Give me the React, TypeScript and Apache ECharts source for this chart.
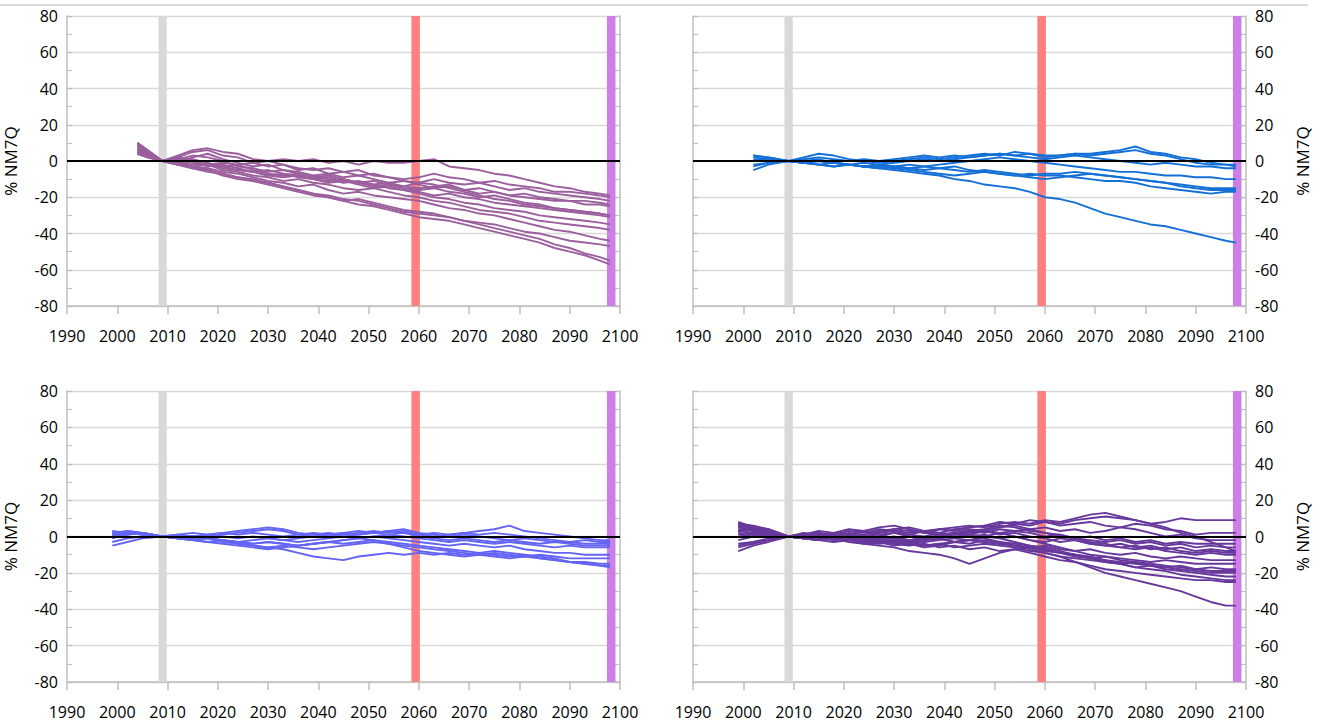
import React, { useEffect, useRef } from "react";
import * as echarts from "echarts";

// ---------- DATA ----------
const YEARS_A = [2004, 2006, 2009, 2012, 2015, 2018, 2021, 2024, 2027, 2030, 2033, 2036, 2039, 2042, 2045, 2048, 2051, 2054, 2057, 2060, 2063, 2066, 2069, 2072, 2075, 2078, 2081, 2084, 2087, 2090, 2093, 2096, 2098];
const YEARS_B = [2002, 2005, 2009, 2012, 2015, 2018, 2021, 2024, 2027, 2030, 2033, 2036, 2039, 2042, 2045, 2048, 2051, 2054, 2057, 2060, 2063, 2066, 2069, 2072, 2075, 2078, 2081, 2084, 2087, 2090, 2093, 2096, 2098];
const YEARS_C = [1999, 2002, 2005, 2009, 2012, 2015, 2018, 2021, 2024, 2027, 2030, 2033, 2036, 2039, 2042, 2045, 2048, 2051, 2054, 2057, 2060, 2063, 2066, 2069, 2072, 2075, 2078, 2081, 2084, 2087, 2090, 2093, 2096, 2098];
const YEARS_D = YEARS_C;

const LINES_A = [
  [4, 2, 0, 1, 0, -2, -1, -2, -1, 0, 1, 0, 1, -1, 0, -2, 0, -1, -1, 0, 1, -3, -4, -5, -7, -8, -10, -12, -14, -15, -17, -18, -19],
  [10, 6, 0, 3, 6, 7, 5, 4, 1, 0, -2, -4, -5, -4, -6, -8, -7, -9, -10, -9, -7, -9, -10, -12, -11, -13, -14, -15, -17, -17, -18, -19, -20],
  [8, 5, 0, 2, 5, 6, 3, 2, -1, -3, -2, -5, -4, -7, -6, -5, -8, -9, -11, -12, -10, -12, -13, -12, -14, -16, -15, -17, -18, -19, -20, -21, -22],
  [6, 4, 0, 1, 3, 2, 0, -3, -4, -6, -5, -7, -9, -8, -10, -12, -11, -13, -14, -15, -14, -13, -16, -15, -17, -19, -18, -20, -21, -22, -22, -23, -24],
  [9, 5, 0, -1, 2, 4, 1, -1, -3, -2, -5, -6, -8, -7, -9, -8, -10, -12, -11, -13, -15, -14, -16, -18, -17, -19, -20, -21, -22, -22, -24, -24, -25],
  [5, 3, 0, -1, -2, -1, -4, -5, -6, -8, -7, -9, -10, -9, -11, -12, -14, -13, -15, -16, -15, -17, -18, -20, -19, -21, -23, -24, -26, -27, -28, -29, -30],
  [7, 4, 0, 2, 1, -1, -3, -2, -5, -7, -8, -7, -9, -10, -12, -11, -13, -12, -14, -12, -13, -15, -17, -19, -21, -22, -24, -25, -26, -27, -28, -29, -30],
  [4, 2, 0, 0, -1, -3, -2, -4, -6, -5, -7, -8, -10, -11, -10, -12, -13, -15, -16, -17, -19, -18, -20, -21, -23, -24, -25, -26, -27, -28, -29, -30, -31],
  [8, 5, 0, -1, 0, -2, -3, -5, -6, -8, -9, -8, -10, -12, -11, -13, -15, -14, -16, -18, -20, -21, -23, -24, -26, -27, -28, -30, -31, -32, -33, -34, -35],
  [6, 3, 0, -2, -3, -2, -5, -6, -8, -9, -11, -10, -12, -13, -15, -16, -15, -17, -19, -20, -22, -23, -25, -27, -28, -29, -31, -33, -34, -35, -36, -37, -38],
  [10, 6, 0, -1, -3, -4, -6, -7, -9, -11, -12, -14, -13, -16, -18, -17, -19, -20, -21, -22, -24, -26, -27, -29, -30, -32, -34, -36, -38, -39, -41, -43, -44],
  [7, 4, 0, -2, -4, -6, -7, -9, -11, -12, -14, -16, -18, -20, -22, -21, -23, -25, -27, -28, -29, -31, -33, -34, -35, -37, -39, -40, -42, -44, -45, -46, -47],
  [5, 3, 0, -2, -4, -5, -7, -9, -10, -12, -14, -16, -18, -19, -21, -22, -24, -26, -28, -29, -30, -31, -33, -35, -37, -39, -41, -43, -46, -48, -51, -53, -55],
  [9, 5, 0, -2, -3, -5, -8, -10, -11, -13, -15, -17, -19, -20, -22, -24, -25, -27, -29, -31, -32, -33, -35, -37, -39, -41, -43, -45, -48, -50, -52, -55, -57],
];

const LINES_B = [
  [3, 2, 0, 1, 2, 1, 0, 1, 0, 1, 2, 3, 2, 3, 2, 3, 4, 3, 4, 3, 3, 4, 4, 5, 6, 8, 5, 4, 2, 1, -1, -2, -2],
  [2, 1, 0, 2, 4, 3, 1, 0, -1, 0, 1, 2, 1, 2, 3, 4, 3, 5, 4, 2, 3, 4, 3, 4, 5, 6, 4, 3, 1, -1, -2, -2, -3],
  [0, 1, 0, -1, 0, -1, -2, -1, -2, -1, 0, 1, 0, 1, 2, 3, 4, 3, 2, 1, 2, 3, 2, 1, 0, -1, -2, -1, -2, -3, -3, -4, -4],
  [3, 2, 0, 0, 1, -1, -2, -3, -2, -3, -4, -3, -2, -1, 0, 1, 2, 1, 0, -1, -2, -3, -4, -5, -6, -6, -7, -8, -8, -9, -9, -10, -10],
  [-2, -1, 0, -1, -2, -3, -2, -3, -4, -3, -2, -3, -4, -5, -6, -5, -6, -7, -8, -7, -7, -6, -7, -8, -9, -10, -11, -12, -13, -14, -15, -15, -15],
  [-3, -1, 0, -1, 0, -1, -2, -3, -2, -3, -4, -5, -4, -3, -5, -6, -7, -8, -9, -10, -9, -8, -7, -8, -9, -10, -11, -12, -14, -15, -16, -16, -16],
  [1, 0, 0, -1, -2, -1, -2, -3, -3, -4, -5, -6, -7, -8, -7, -6, -7, -8, -7, -8, -8, -9, -10, -11, -11, -12, -14, -15, -16, -17, -18, -17, -17],
  [-5, -2, 0, -1, -2, -3, -2, -3, -4, -5, -6, -7, -8, -10, -11, -13, -14, -15, -17, -20, -21, -23, -26, -29, -31, -33, -35, -36, -38, -40, -42, -44, -45],
];

const LINES_C = [
  [2, 3, 2, 0, 1, 0, 1, 2, 1, 2, 1, 0, 1, 2, 1, 2, 3, 2, 3, 2, 1, 2, 1, 2, 3, 4, 6, 3, 2, 1, 0, -1, -2, -2],
  [1, 3, 2, 0, 1, 2, 1, 2, 3, 4, 5, 4, 2, 1, 2, 1, 2, 3, 2, 3, 1, 0, 1, 2, 1, 2, 1, 0, -1, -2, -3, -2, -3, -3],
  [0, 2, 1, 0, 0, -1, 0, 1, 2, 3, 4, 3, 1, 0, 1, 2, 1, 2, 3, 4, 2, 1, 0, 1, 0, -1, -2, -1, -2, -3, -3, -4, -4, -4],
  [-1, 1, 2, 0, -1, -2, -1, -2, -3, -2, -1, -2, -3, -2, -1, 0, 1, 2, 1, 2, 0, -1, -2, -1, -2, -3, -2, -3, -4, -3, -4, -5, -5, -5],
  [-3, -1, 0, 0, -1, 0, -1, -2, -3, -4, -3, -4, -5, -4, -3, -2, -1, 0, 1, 0, -1, -2, -3, -2, -3, -4, -3, -4, -5, -6, -5, -6, -6, -6],
  [-5, -3, -1, 0, -1, -2, -3, -4, -5, -6, -7, -6, -5, -4, -3, -2, -1, 0, -1, -2, -3, -4, -5, -4, -5, -6, -5, -7, -8, -9, -9, -10, -10, -10],
  [3, 2, 1, 0, -1, -2, -1, -3, -4, -5, -6, -5, -6, -7, -6, -5, -4, -3, -4, -5, -6, -7, -8, -9, -10, -9, -10, -11, -10, -11, -12, -12, -12, -12],
  [0, 1, 2, 0, -1, -2, -3, -2, -4, -5, -6, -7, -9, -11, -12, -13, -11, -10, -9, -10, -9, -10, -9, -10, -9, -10, -11, -10, -12, -13, -14, -14, -15, -15],
  [2, 1, 2, 0, 1, 0, 1, 0, -1, 0, -1, -2, -1, 0, 1, 0, -1, -2, -4, -6, -8, -9, -10, -11, -10, -11, -12, -11, -12, -13, -14, -15, -16, -16],
  [1, 2, 1, 0, -1, 0, -1, -2, -3, -4, -3, -4, -5, -4, -3, -4, -3, -2, -3, -4, -5, -6, -7, -8, -9, -8, -9, -10, -11, -12, -14, -15, -16, -17],
];

const LINES_D = [
  [5, 4, 2, 0, 1, 2, 1, 3, 2, 4, 3, 2, 3, 4, 3, 5, 6, 5, 7, 6, 8, 7, 9, 10, 11, 10, 9, 7, 8, 10, 9, 9, 9, 9],
  [6, 5, 3, 0, 1, 3, 2, 1, 3, 2, 4, 3, 2, 4, 5, 6, 5, 7, 8, 7, 9, 8, 10, 12, 13, 11, 9, 7, 5, 2, 0, -3, -6, -8],
  [8, 5, 3, 0, 2, 1, 0, 2, 1, 3, 4, 5, 3, 2, 4, 5, 6, 8, 7, 9, 8, 6, 7, 8, 6, 5, 7, 6, 4, 3, 1, 2, 2, 2],
  [3, 5, 4, 0, -1, 1, 2, 4, 3, 1, 2, 0, -1, 1, 2, 4, 3, 5, 6, 4, 5, 3, 4, 2, 3, 5, 4, 2, 0, 1, -1, -2, -2, -2],
  [7, 6, 4, 0, 1, -1, 0, -2, -1, 0, 2, 1, 3, 2, 1, 3, 2, 4, 3, 2, 0, 1, -1, 0, -2, -1, -3, -2, -4, -3, -4, -4, -4, -4],
  [-2, 0, 1, 0, -1, 0, -1, 1, 0, 2, 3, 1, 0, 2, 1, 3, 4, 6, 5, 3, 2, 0, -1, -2, -3, -2, -4, -3, -5, -4, -6, -5, -6, -6],
  [4, 3, 1, 0, 1, 2, 0, 1, 3, 5, 6, 4, 2, 1, 2, 0, 1, -1, 0, -2, -3, -1, -2, -4, -5, -4, -6, -5, -7, -6, -8, -7, -8, -8],
  [-6, -4, -2, 0, -1, -2, -1, 0, -2, -1, -3, -2, -1, 0, 1, 2, 3, 1, 2, 0, -1, -3, -2, -4, -5, -6, -5, -7, -6, -8, -9, -8, -9, -9],
  [2, 1, 0, 0, 1, 0, -1, 0, -1, -2, -1, -3, -2, -1, -3, -2, 0, 2, 3, 4, 2, 1, -1, -3, -4, -6, -7, -6, -8, -9, -10, -9, -10, -10],
  [-8, -5, -3, 0, -1, -2, -3, -2, -4, -3, -5, -4, -6, -5, -3, -4, -2, -3, -5, -6, -5, -7, -8, -7, -9, -10, -9, -11, -12, -11, -12, -13, -13, -13],
  [0, 1, 0, 0, -1, -2, -1, -3, -4, -5, -6, -8, -9, -10, -12, -15, -12, -9, -7, -6, -7, -9, -11, -12, -11, -12, -13, -14, -13, -14, -15, -15, -15, -15],
  [3, 2, 1, 0, -1, 0, -2, -1, -3, -2, -4, -3, -5, -4, -6, -5, -4, -5, -6, -8, -9, -11, -12, -13, -14, -15, -14, -16, -17, -16, -18, -17, -18, -18],
  [5, 4, 3, 0, 1, -1, 0, 1, 0, -1, 0, -2, -1, 0, 2, 1, 3, 2, 0, -2, -4, -6, -8, -10, -11, -13, -14, -15, -16, -17, -18, -19, -19, -19],
  [-4, -3, -1, 0, 0, -1, -2, -1, -2, -3, -2, -4, -3, -2, -1, -2, -3, -4, -5, -6, -8, -9, -10, -11, -13, -14, -15, -16, -17, -18, -19, -20, -20, -20],
  [6, 4, 2, 0, -1, 0, 1, -1, 0, -2, -1, -3, -2, -1, 0, 1, 0, -1, -3, -5, -7, -9, -10, -12, -14, -15, -17, -16, -18, -19, -20, -21, -22, -22],
  [1, 2, 1, 0, -1, -2, -1, -2, -3, -2, -4, -5, -4, -6, -5, -7, -6, -8, -7, -9, -11, -13, -14, -16, -18, -19, -20, -21, -22, -23, -24, -24, -25, -25],
  [-5, -3, -2, 0, -1, -2, -1, -2, -3, -4, -3, -4, -5, -4, -3, -2, -3, -4, -5, -7, -9, -11, -14, -17, -20, -22, -24, -26, -28, -30, -33, -36, -38, -38],
  [7, 5, 3, 0, 1, 0, 2, 1, 0, 1, -1, 0, -2, -1, -3, -2, -1, -3, -4, -5, -6, -8, -10, -12, -13, -15, -17, -18, -19, -21, -22, -23, -24, -24],
];

// highlighted periods [from, to]
const PERIOD_BASE = [2008.2, 2009.85];
const PERIOD_MID = [2058.5, 2060.2];
const PERIOD_END = [2097.4, 2099.1];

const X_MIN = 1990;
const X_MAX = 2100;
const Y_MIN = -80;
const Y_MAX = 80;
const Y_NAME = "% NM7Q";

// ---------- STYLE ----------
const FONT = "'Open Sans', 'Liberation Sans', sans-serif";
const AXIS_GREY = "#bfbfbf";
const GRID_GREY = "#d9d9d9";
const TEXT = "#000000";

const PANELS = [
  { years: YEARS_A, lines: LINES_A, color: "#9b5f9d", left: 67, top: 16, height: 290, side: "left" },
  { years: YEARS_B, lines: LINES_B, color: "#1470d6", left: 693, top: 16, height: 290, side: "right" },
  { years: YEARS_C, lines: LINES_C, color: "#6464f4", left: 67, top: 391, height: 291, side: "left" },
  { years: YEARS_D, lines: LINES_D, color: "#67389c", left: 693, top: 391, height: 291, side: "right" },
];
const PANEL_W = 553;

const BARS = [
  { range: PERIOD_BASE, color: "#d9d9d9" },
  { range: PERIOD_MID, color: "#ff8080" },
  { range: PERIOD_END, color: "#cc80e6" },
];

function buildOption() {
  const grid: any[] = [];
  const xAxis: any[] = [];
  const yAxis: any[] = [];
  const series: any[] = [];

  PANELS.forEach((p, i) => {
    grid.push({ left: p.left, top: p.top, width: PANEL_W, height: p.height, containLabel: false });
    xAxis.push({
      type: "value",
      gridIndex: i,
      min: X_MIN,
      max: X_MAX,
      interval: 10,
      axisLine: { show: true, onZero: false, lineStyle: { color: AXIS_GREY, width: 1.5 } },
      axisTick: { show: true, length: 8, lineStyle: { color: AXIS_GREY, width: 1.5 } },
      axisLabel: { fontSize: 16, color: TEXT, fontFamily: FONT, margin: 22, formatter: (v: number) => String(v) },
      splitLine: { show: false },
    });
    const other = p.side === "left" ? "right" : "left";
    const common = {
      type: "value",
      gridIndex: i,
      min: Y_MIN,
      max: Y_MAX,
      interval: 20,
      axisLine: { show: true, onZero: false, lineStyle: { color: AXIS_GREY, width: 1.5 } },
      axisTick: { show: true, inside: true, length: 5, lineStyle: { color: AXIS_GREY, width: 1.2 } },
      minorTick: { show: true, splitNumber: 2, length: 5, lineStyle: { color: AXIS_GREY, width: 1.2 } },
    };
    yAxis.push({
      ...common,
      position: p.side,
      name: Y_NAME,
      nameLocation: "middle",
      nameGap: 48,
      nameRotate: 90,
      nameTextStyle: { fontSize: 17, color: TEXT, fontFamily: FONT },
      axisLabel: { fontSize: 16, color: TEXT, fontFamily: FONT, margin: 9 },
      splitLine: { show: true, lineStyle: { color: GRID_GREY, width: 1.3 } },
    });
    yAxis.push({
      ...common,
      position: other,
      axisLabel: { show: false },
      splitLine: { show: false },
    });
    const yIdx = i * 2;
    series.push({
      type: "line",
      xAxisIndex: i,
      yAxisIndex: yIdx,
      data: [],
      silent: true,
      markArea: {
        silent: true,
        label: { show: false },
        data: BARS.map((b) => [
          { xAxis: b.range[0], itemStyle: { color: b.color, opacity: 1 } },
          { xAxis: b.range[1] },
        ]),
      },
    });
    p.lines.forEach((vals) => {
      series.push({
        type: "line",
        xAxisIndex: i,
        yAxisIndex: yIdx,
        data: p.years.map((y, k) => [y, vals[k]]),
        showSymbol: false,
        symbol: "none",
        silent: true,
        z: 3,
        lineStyle: { color: p.color, width: 1.9 },
      });
    });
    series.push({
      type: "line",
      xAxisIndex: i,
      yAxisIndex: yIdx,
      data: [],
      silent: true,
      z: 6,
      markLine: {
        silent: true,
        symbol: ["none", "none"],
        label: { show: false },
        lineStyle: { color: "#000", width: 1.8, type: "solid" },
        data: [{ yAxis: 0 }],
      },
    });
  });

  return {
    animation: false,
    backgroundColor: "#ffffff",
    grid,
    xAxis,
    yAxis,
    series,
    graphic: [
      {
        type: "line",
        silent: true,
        shape: { x1: 0, y1: 5, x2: 1308, y2: 5 },
        style: { stroke: GRID_GREY, lineWidth: 2 },
      },
    ],
  };
}

export default function App() {
  const ref = useRef<HTMLDivElement>(null);
  useEffect(() => {
    if (!ref.current) return;
    const chart = echarts.init(ref.current, undefined, { renderer: "svg" });
    chart.setOption(buildOption() as any);
    return () => chart.dispose();
  }, []);
  return (
    <div
      ref={ref}
      style={{ position: "fixed", left: 0, top: 0, width: 1322, height: 724, background: "#fff" }}
    />
  );
}
